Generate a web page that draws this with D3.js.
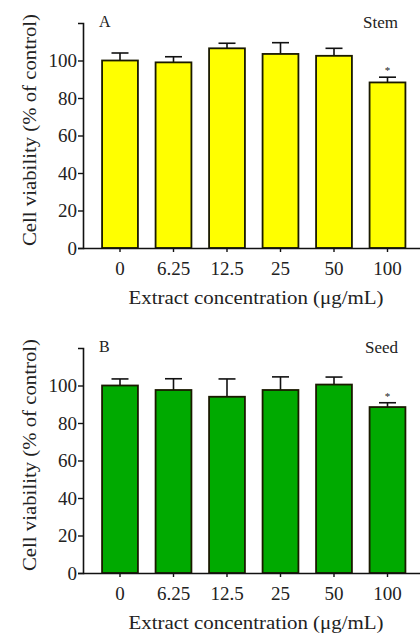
<!DOCTYPE html>
<html>
<head>
<meta charset="utf-8">
<script src="https://cdn.jsdelivr.net/npm/d3@7"></script>
<style>
  body { margin: 0; background: #fff; }
  svg text { font-family: "Liberation Serif", "DejaVu Serif", serif; fill: #222; }
</style>
</head>
<body>
<svg id="chart" width="420" height="635"></svg>
<script>
// data
const concentrations = ["0", "6.25", "12.5", "25", "50", "100"];
const stemMean = [100, 99, 106.5, 103.5, 102.5, 88.3];
const stemErr = [4, 3, 2.7, 6, 4, 2.8];
const seedMean = [100, 97.6, 94, 97.6, 100.5, 88.5];
const seedErr = [3.5, 6, 9.5, 7, 4, 2.3];
const yTicks = [0, 20, 40, 60, 80, 100];
const stars = ["", "", "", "", "", "*"];

const svg = d3.select('#chart');

const drawPanel = (top, means, errs, color, letter, name) => {
    const x0 = 83, baseline = top + 225;

    const x = d3.scaleBand()
        .domain(concentrations)
        .range([93.25, 414.25])
        .paddingInner(0.33)
        .paddingOuter(0.165);
    const y = d3.scaleLinear().domain([0, 120]).range([baseline, top]);

    const g = svg.append('g');

    const data = concentrations.map((c, i) => ({ c, v: means[i], e: errs[i], s: stars[i] }));

    // error bars (upper only), drawn under the bars
    const eb = g.selectAll('.err').data(data).join('g').attr('class', 'err');
    eb.append('line')
        .attr('x1', d => x(d.c) + x.bandwidth() / 2)
        .attr('x2', d => x(d.c) + x.bandwidth() / 2)
        .attr('y1', d => y(d.v))
        .attr('y2', d => y(d.v + d.e))
        .attr('stroke', '#111').attr('stroke-width', 1.6);
    eb.append('line')
        .attr('x1', d => x(d.c) + x.bandwidth() / 2 - 8.5)
        .attr('x2', d => x(d.c) + x.bandwidth() / 2 + 8.5)
        .attr('y1', d => y(d.v + d.e))
        .attr('y2', d => y(d.v + d.e))
        .attr('stroke', '#111').attr('stroke-width', 1.6);

    g.selectAll('.bar').data(data).join('rect')
        .attr('class', 'bar')
        .attr('x', d => x(d.c))
        .attr('y', d => y(d.v))
        .attr('width', x.bandwidth())
        .attr('height', d => y(0) - y(d.v))
        .attr('fill', color)
        .attr('stroke', '#1a1a00')
        .attr('stroke-width', 1.8);

    g.selectAll('.star').data(data.filter(d => d.s)).join('text')
        .attr('class', 'star')
        .attr('x', d => x(d.c) + x.bandwidth() / 2)
        .attr('y', d => y(d.v + d.e) - 3)
        .attr('text-anchor', 'middle')
        .style('font-size', '11px')
        .attr('fill', '#555')
        .text(d => d.s);

    // y axis
    const yAxis = g.append('g')
        .attr('transform', `translate(${x0},0)`)
        .call(d3.axisLeft(y).tickValues(yTicks).tickSize(5).tickPadding(1));
    yAxis.select('.domain').attr('stroke', '#111').attr('stroke-width', 1.6);
    yAxis.selectAll('.tick line').attr('stroke', '#111').attr('stroke-width', 1.4);
    yAxis.selectAll('.tick text').style('font-size', '19px').attr('fill', '#222');

    // x axis
    const xAxis = g.append('g')
        .attr('transform', `translate(0,${baseline})`)
        .call(d3.axisBottom(x).tickSize(4).tickSizeOuter(0).tickPadding(10));
    xAxis.select('.domain').attr('d', `M${x0},0.5H420`).attr('stroke', '#111').attr('stroke-width', 1.6);
    xAxis.selectAll('.tick line').attr('stroke', '#111').attr('stroke-width', 1.4);
    xAxis.selectAll('.tick text').style('font-size', '19px').attr('fill', '#222');

    g.append('text')
        .attr('x', 256)
        .attr('y', baseline + 56)
        .attr('text-anchor', 'middle')
        .attr('textLength', 255)
        .attr('lengthAdjust', 'spacingAndGlyphs')
        .style('font-size', '19px')
        .text('Extract concentration (\u03bcg/mL)');

    g.append('text')
        .attr('transform', `translate(36,${top + 107}) rotate(-90)`)
        .attr('text-anchor', 'middle')
        .attr('textLength', 232)
        .attr('lengthAdjust', 'spacingAndGlyphs')
        .style('font-size', '19px')
        .text('Cell viability (% of control)');

    g.append('text')
        .attr('x', 99).attr('y', top + 4)
        .style('font-size', '16px')
        .text(letter);

    g.append('text')
        .attr('x', 398).attr('y', top + 5)
        .attr('text-anchor', 'end')
        .style('font-size', '17px')
        .text(name);
};

drawPanel(23, stemMean, stemErr, '#ffff00', 'A', 'Stem');
drawPanel(348, seedMean, seedErr, '#00aa00', 'B', 'Seed');
</script>
</body>
</html>
